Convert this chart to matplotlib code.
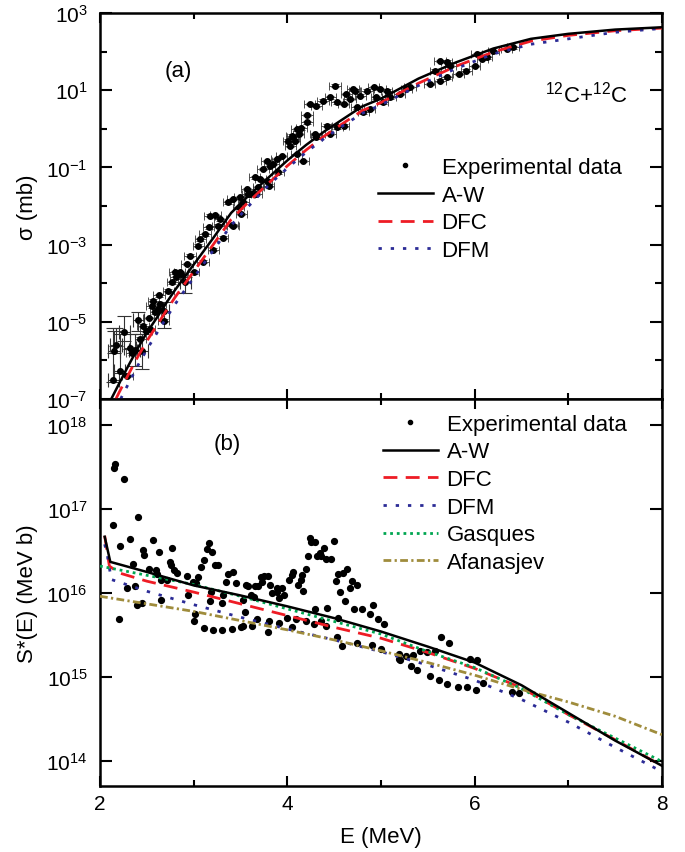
import numpy as np
import matplotlib.pyplot as plt
from matplotlib.lines import Line2D
from matplotlib.ticker import FixedLocator, NullFormatter, NullLocator, MultipleLocator, FuncFormatter

plt.rcParams['font.family'] = ['Liberation Sans', 'DejaVu Sans']
plt.rcParams['mathtext.fontset'] = 'custom'
plt.rcParams['mathtext.rm'] = 'Liberation Sans'
plt.rcParams['mathtext.it'] = 'Liberation Sans:italic'
plt.rcParams['mathtext.bf'] = 'Liberation Sans:bold'

# ---------------- (a) cross section, log10(sigma / mb) ----------------
E_exp_a = [2.29, 2.34, 2.43, 2.46, 2.49, 2.52, 2.53, 2.55, 2.57, 2.59, 2.62, 2.63, 2.64, 2.68,
           2.73, 2.77, 2.80, 2.81, 2.85, 2.87, 2.93, 2.96, 3.00, 3.05, 3.07, 3.10, 3.12, 3.16,
           3.17, 3.21, 3.23, 3.26, 3.28, 3.31, 3.37, 3.41, 3.42, 3.42, 3.48, 3.49, 3.51, 3.53,
           3.57, 3.58, 3.60, 3.65, 3.67, 3.69, 3.71, 3.74, 3.78, 3.78, 3.80, 3.81, 3.85, 3.89,
           3.90, 3.94, 4.01, 4.03, 4.05, 4.06, 4.08, 4.10, 4.10, 4.12, 4.15, 4.17, 4.21, 4.21,
           4.24, 4.30, 4.31, 4.31, 4.38, 4.42, 4.46, 4.46, 4.51, 4.53, 4.53, 4.60, 4.60, 4.63,
           4.67, 4.70, 4.72, 4.74, 4.78, 4.81, 4.85, 4.88, 4.92, 4.95, 4.99, 5.02, 5.06, 5.10,
           5.20, 5.27, 5.31, 5.52, 5.58, 5.63, 5.63, 5.70, 5.70, 5.74, 5.83, 5.91, 6.00, 6.02,
           6.08, 6.13, 6.20, 6.34, 6.41]
logsig_exp_a = [-6.40, -5.82, -5.44, -5.10, -5.23, -4.90, -5.19, -4.60, -4.45, -4.75, -4.67, -4.31, -4.54, -4.97,
                -4.19, -3.98, -3.72, -3.85, -3.72, -3.76, -3.50, -3.29, -3.72, -3.03, -2.86, -3.44, -2.73, -2.55,
                -2.25, -3.13, -2.23, -2.51, -2.34, -2.82, -1.90, -2.49, -1.82, -2.51, -2.03, -1.77, -2.21, -1.90,
                -1.56, -1.69, -1.69, -1.26, -1.69, -1.52, -1.30, -1.04, -0.83, -1.34, -1.47, -0.96, -0.91, -0.78,
                -1.13, -0.70, -0.31, -0.44, -0.18, -0.22, -0.31, -0.65, -0.01, -0.13, 0.01, -0.83, 0.17, 0.36,
                0.64, -0.13, 0.60, -0.22, 0.73, 0.08, 0.82, -0.13, 1.12, 0.69, 0.04, 0.64, 0.08, 0.90,
                0.77, 1.03, 0.99, 0.56, 0.86, 0.43, 0.99, 0.51, 1.08, 0.82, 1.03, 0.69, 0.99, 0.82,
                0.90, 1.03, 1.08, 1.16, 1.51, 1.76, 1.25, 1.74, 1.33, 1.63, 1.42, 1.51, 1.63, 1.94,
                1.81, 1.85, 2.02, 2.07, 2.11]

# low-energy points with large vertical error bars
E_low = [2.14, 2.15, 2.17, 2.21, 2.26, 2.32, 2.37, 2.41, 2.45, 2.68, 2.91]
logsig_low = [-6.51, -5.76, -5.60, -6.28, -5.26, -5.67, -5.73, -4.95, -5.77, -4.71, -3.98]
logsig_low_hi = [-5.16, -5.25, -5.16, -5.32, -4.84, -5.32, -5.32, -4.74, -5.32, -4.50, -3.85]
logsig_low_lo = [-6.55, -5.80, -5.64, -6.32, -5.50, -5.71, -6.14, -5.23, -6.22, -5.16, -4.26]

E_aw_a = [2.12, 2.2, 2.3, 2.4, 2.5, 2.6, 2.7, 2.8, 2.9, 3.0, 3.2, 3.4, 3.6, 3.8, 4.0, 4.2,
          4.4, 4.6, 4.8, 5.0, 5.4, 5.8, 6.2, 6.6, 7.0, 7.5, 8.0]
logsig_aw = [-7.0, -6.62, -6.15, -5.70, -5.28, -4.92, -4.54, -4.18, -3.85, -3.52, -2.86, -2.18,
             -1.70, -1.26, -0.82, -0.42, -0.06, 0.26, 0.58, 0.78, 1.30, 1.72, 2.08, 2.33, 2.46, 2.57, 2.63]
E_dfc_a = [2.17, 2.2, 2.3, 2.4, 2.5, 2.6, 2.7, 2.8, 2.9, 3.0, 3.2, 3.4, 3.6, 3.8, 4.0, 4.2,
           4.4, 4.6, 4.8, 5.0, 5.4, 5.8, 6.2, 6.6, 7.0, 7.5, 8.0]
logsig_dfc = [-7.0, -6.85, -6.38, -5.92, -5.50, -5.12, -4.74, -4.37, -4.03, -3.70, -3.03, -2.35,
              -1.86, -1.41, -0.96, -0.55, -0.18, 0.15, 0.47, 0.68, 1.18, 1.62, 1.99, 2.27, 2.42, 2.54, 2.61]
E_dfm_a = [2.22, 2.3, 2.4, 2.5, 2.6, 2.7, 2.8, 2.9, 3.0, 3.2, 3.4, 3.6, 3.8, 4.0, 4.2,
           4.4, 4.6, 4.8, 5.0, 5.4, 5.8, 6.2, 6.6, 7.0, 7.5, 8.0]
logsig_dfm = [-7.0, -6.62, -6.15, -5.72, -5.32, -4.93, -4.55, -4.20, -3.86, -3.18, -2.50,
              -1.97, -1.46, -1.02, -0.61, -0.24, 0.09, 0.40, 0.62, 1.12, 1.56, 1.94, 2.19, 2.33, 2.50, 2.60]

# ---------------- (b) modified S-factor, log10(S* / MeV b) ----------------
E_exp_b = [2.16, 2.15, 2.26, 2.41, 2.14, 2.32, 2.57, 2.21, 2.46, 2.47, 2.63, 2.77, 3.16, 3.14,
           3.20, 3.11, 3.08, 2.75, 2.76, 2.35, 2.52, 2.60, 2.79, 2.82, 2.93, 3.05, 3.23, 3.26,
           3.37, 3.42, 3.34, 3.45, 3.56, 2.37, 2.29, 2.61, 2.65, 2.72, 2.99, 3.03, 2.94, 3.18,
           3.31, 2.65, 3.17, 3.30, 2.39, 2.45, 3.55, 3.01, 2.20, 3.00, 3.11, 3.21, 3.30, 3.41,
           3.51, 3.53, 4.24, 4.25, 4.30, 4.50, 4.39, 4.35, 4.32, 4.36, 4.22, 4.41, 4.47, 4.20,
           4.06, 4.05, 4.02, 4.16, 4.15, 4.11, 4.17, 4.64, 4.59, 4.54, 4.52, 4.69, 4.74, 4.67,
           4.56, 4.62, 4.42, 4.30, 4.71, 4.80, 4.91, 4.88, 4.97, 5.03, 4.54, 4.36, 4.41, 4.53,
           4.58, 4.74, 4.90, 5.00, 5.19, 5.19, 3.72, 3.75, 3.79, 3.73, 3.69, 3.66, 3.58, 3.81,
           3.89, 3.94, 3.89, 3.84, 3.91, 3.96, 3.61, 3.64, 4.00, 4.09, 4.20, 3.91, 3.80, 3.68,
           3.53, 3.62, 3.79, 4.05, 4.28, 5.64, 5.73, 5.95, 6.02, 5.58, 5.34, 5.27, 5.20, 5.32,
           5.38, 5.52, 5.62, 5.71, 5.82, 5.92, 6.01, 6.40, 6.47, 5.42, 5.49, 6.09]
logS_exp_b = [17.54, 17.49, 17.36, 16.91, 16.81, 16.64, 16.63, 16.56, 16.51, 16.45, 16.49, 16.53, 16.59, 16.52,
              16.49, 16.39, 16.31, 16.37, 16.33, 16.35, 16.29, 16.27, 16.27, 16.24, 16.20, 16.19, 16.33, 16.33,
              16.23, 16.25, 16.13, 16.12, 16.09, 16.08, 16.06, 16.23, 16.15, 16.15, 16.13, 16.12, 15.98, 16.01,
              15.98, 15.92, 15.90, 15.88, 15.86, 15.88, 15.77, 15.75, 15.69, 15.66, 15.58, 15.56, 15.56, 15.57,
              15.59, 15.92, 16.65, 16.61, 16.61, 16.62, 16.53, 16.48, 16.44, 16.44, 16.44, 16.40, 16.40, 16.29,
              16.25, 16.21, 16.16, 16.21, 16.15, 16.10, 16.02, 16.29, 16.24, 16.22, 16.14, 16.14, 16.10, 16.06,
              16.01, 15.90, 15.82, 15.81, 15.81, 15.81, 15.86, 15.75, 15.69, 15.63, 15.70, 15.67, 15.61, 15.48,
              15.37, 15.40, 15.38, 15.33, 15.27, 15.21, 16.19, 16.20, 16.20, 16.13, 16.08, 16.08, 16.08, 16.10,
              16.06, 16.06, 16.01, 16.00, 15.94, 15.98, 15.98, 15.95, 15.70, 15.69, 15.67, 15.64, 15.66, 15.69,
              15.60, 15.60, 15.54, 15.59, 15.63, 15.48, 15.40, 15.21, 15.20, 15.31, 15.26, 15.25, 15.20, 15.13,
              15.08, 15.01, 14.96, 14.92, 14.88, 14.88, 14.84, 14.82, 14.81, 15.31, 15.29, 14.93]

E_aw_b = [2.05, 2.11, 2.5, 3.0, 3.5, 4.0, 4.5, 5.0, 5.5, 6.0, 6.5, 7.0, 7.5, 8.0]
logS_aw = [16.67, 16.37, 16.25, 16.09, 15.97, 15.84, 15.70, 15.54, 15.36, 15.17, 14.90, 14.57, 14.24, 13.94]
E_dfc_b = [2.05, 2.10, 2.2, 2.5, 3.0, 3.5, 4.0, 4.5, 5.0, 5.5, 6.0, 6.5, 7.0, 7.5, 8.0]
logS_dfc = [16.68, 16.32, 16.24, 16.14, 16.01, 15.87, 15.73, 15.59, 15.46, 15.29, 15.10, 14.87, 14.55, 14.25, 13.94]
E_dfm_b = [2.05, 2.08, 2.12, 2.5, 3.0, 3.5, 4.0, 4.5, 5.0, 5.5, 6.0, 6.5, 7.0, 7.5, 8.0]
logS_dfm = [16.58, 16.44, 16.16, 16.02, 15.86, 15.71, 15.57, 15.44, 15.30, 15.14, 14.96, 14.73, 14.46, 14.16, 13.87]
E_gas = [2.0, 2.5, 3.0, 3.5, 4.0, 4.5, 5.0, 5.5, 6.0, 6.5, 7.0, 7.5, 8.0]
logS_gas = [16.32, 16.21, 16.10, 15.96, 15.81, 15.66, 15.51, 15.30, 15.11, 14.86, 14.55, 14.27, 13.99]
E_afa = [2.0, 2.5, 3.0, 3.5, 4.0, 4.5, 5.0, 5.5, 6.0, 6.5, 7.0, 7.5, 8.0]
logS_afa = [15.96, 15.87, 15.78, 15.67, 15.56, 15.44, 15.31, 15.17, 15.02, 14.85, 14.70, 14.53, 14.31]

c_red = '#ee1c25'
c_blue = '#2b2b96'
c_green = '#00a651'
c_olive = '#9f8c3c'


def p10(v):
    return np.power(10.0, np.asarray(v))


def dec_fmt(v, pos):
    return r'$\mathregular{10^{%d}}$' % int(round(np.log10(v)))


def style_axes(ax):
    for s in ax.spines.values():
        s.set_linewidth(1.8)
    ax.set_xlim(2, 8)
    ax.xaxis.set_major_locator(MultipleLocator(2))
    ax.xaxis.set_minor_locator(MultipleLocator(1))
    ax.tick_params(which='both', direction='in', top=True, right=True, width=1.5, labelsize=15)
    ax.tick_params(axis='x', which='major', length=7.5, pad=6)
    ax.tick_params(axis='x', which='minor', length=4)
    ax.tick_params(axis='y', which='major', length=8.5, pad=9)
    ax.tick_params(axis='y', which='minor', length=5)


fig = plt.figure(figsize=(6.85, 8.53), dpi=100)
ax1 = fig.add_axes([0.146, 0.5311, 0.8204, 0.4525])
ax2 = fig.add_axes([0.146, 0.0774, 0.8204, 0.4537])

# ---- panel (a)
sig_a = p10(logsig_exp_a)
ax1.errorbar(E_exp_a, sig_a, xerr=0.06, yerr=0.08 * sig_a, fmt='o', ms=4, color='black',
             ecolor='#333333', elinewidth=0.6, capsize=3, capthick=0.6, zorder=2)
sig_low = p10(logsig_low)
yerr_low = [sig_low - p10(logsig_low_lo), p10(logsig_low_hi) - sig_low]
ax1.errorbar(E_low, sig_low, xerr=0.06, yerr=yerr_low, fmt='o', ms=4, color='black',
             ecolor='#333333', elinewidth=0.8, capsize=5, capthick=0.8, zorder=2)
ax1.plot(E_aw_a, p10(logsig_aw), color='black', lw=1.8, zorder=4)
ax1.plot(E_dfc_a, p10(logsig_dfc), color=c_red, lw=2.0, dashes=(5, 3), zorder=3)
ax1.plot(E_dfm_a, p10(logsig_dfm), color=c_blue, lw=2.0, dashes=(1.2, 3.2), zorder=3)

ax1.set_yscale('log')
ax1.set_ylim(1e-7, 1e3)
style_axes(ax1)
ax1.yaxis.set_major_locator(FixedLocator([1e-7, 1e-5, 1e-3, 1e-1, 1e1, 1e3]))
ax1.yaxis.set_minor_locator(FixedLocator([1e-6, 1e-4, 1e-2, 1e0, 1e2]))
ax1.yaxis.set_major_formatter(FuncFormatter(dec_fmt))
ax1.yaxis.set_minor_formatter(NullFormatter())
ax1.tick_params(axis='x', labelbottom=False)
ax1.set_ylabel('σ (mb)', fontsize=16)
ax1.yaxis.set_label_coords(-0.110, 0.5)
ax1.text(0.139, 0.85, '(a)', transform=ax1.transAxes, fontsize=16, ha='center', va='center')
ax1.text(0.865, 0.79, r'$\mathregular{^{12}}$C+$\mathregular{^{12}}$C', transform=ax1.transAxes,
         fontsize=16, ha='center', va='center')

h_a = [Line2D([], [], ls='none', marker='o', ms=3, color='black'),
       Line2D([], [], color='black', lw=1.8),
       Line2D([], [], color=c_red, lw=2.0, dashes=(5, 3)),
       Line2D([], [], color=c_blue, lw=2.0, dashes=(1.2, 3.2))]
ax1.legend(h_a, ['Experimental data', 'A-W', 'DFC', 'DFM'], loc='upper left',
           bbox_to_anchor=(0.495, 0.627), frameon=False, fontsize=16, handlelength=2.45,
           handletextpad=0.4, labelspacing=0.3, borderaxespad=0, borderpad=0)

# ---- panel (b)
ax2.plot(E_exp_b, p10(logS_exp_b), 'o', ms=4.2, color='black', ls='none', zorder=2)
ax2.plot(E_aw_b, p10(logS_aw), color='black', lw=1.8, zorder=4)
ax2.plot(E_dfc_b, p10(logS_dfc), color=c_red, lw=2.0, dashes=(5, 3), zorder=3)
ax2.plot(E_dfm_b, p10(logS_dfm), color=c_blue, lw=2.0, dashes=(1.2, 3.2), zorder=3)
ax2.plot(E_gas, p10(logS_gas), color=c_green, lw=2.0, dashes=(1, 1.4), zorder=3)
ax2.plot(E_afa, p10(logS_afa), color=c_olive, lw=2.0, dashes=(2.8, 1.2, 0.8, 1.2), zorder=3)

ax2.set_yscale('log')
ax2.set_ylim(5e13, 2.05e18)
style_axes(ax2)
ax2.yaxis.set_major_locator(FixedLocator([1e14, 1e15, 1e16, 1e17, 1e18]))
ax2.yaxis.set_minor_locator(NullLocator())
ax2.yaxis.set_major_formatter(FuncFormatter(dec_fmt))
ax2.set_ylabel('S*(E) (MeV b)', fontsize=16)
ax2.yaxis.set_label_coords(-0.110, 0.5)
ax2.set_xlabel('E (MeV)', fontsize=16, labelpad=9)
ax2.text(0.226, 0.884, '(b)', transform=ax2.transAxes, fontsize=16, ha='center', va='center')

h_b = [Line2D([], [], ls='none', marker='o', ms=3, color='black'),
       Line2D([], [], color='black', lw=1.8),
       Line2D([], [], color=c_red, lw=2.0, dashes=(5, 3)),
       Line2D([], [], color=c_blue, lw=2.0, dashes=(1.2, 3.2)),
       Line2D([], [], color=c_green, lw=2.0, dashes=(1, 1.4)),
       Line2D([], [], color=c_olive, lw=2.0, dashes=(2.8, 1.2, 0.8, 1.2))]
ax2.legend(h_b, ['Experimental data', 'A-W', 'DFC', 'DFM', 'Gasques', 'Afanasjev'],
           loc='upper left', bbox_to_anchor=(0.504, 0.962), frameon=False, fontsize=16,
           handlelength=2.45, handletextpad=0.4, labelspacing=0.3, borderaxespad=0, borderpad=0)

fig.savefig('out.png', dpi=100)
